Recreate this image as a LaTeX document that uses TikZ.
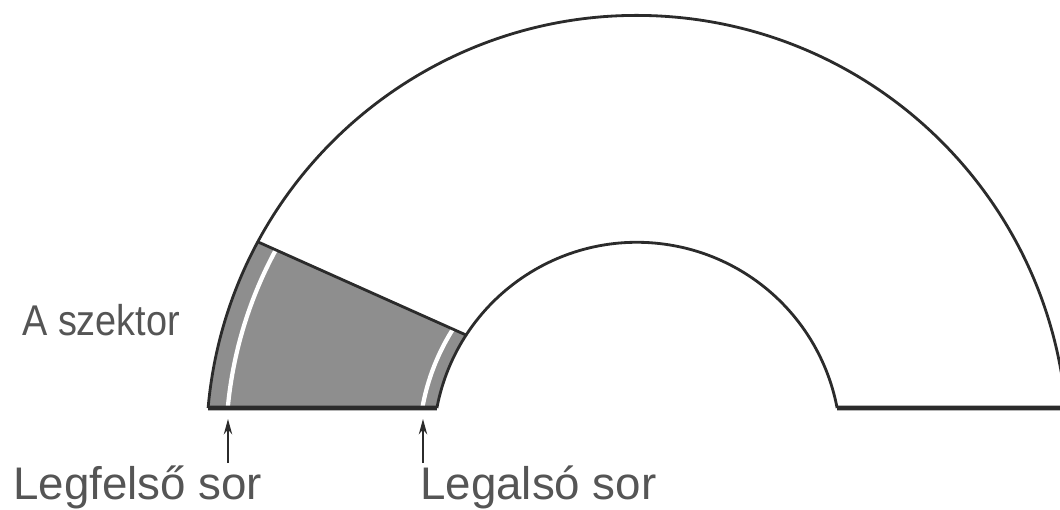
\documentclass[tikz,border=0pt]{standalone}
\usepackage{fontspec}
\setmainfont{Liberation Sans}
\usetikzlibrary{arrows.meta}
\definecolor{inkline}{HTML}{2B2B2B}
\definecolor{inktext}{HTML}{555555}
\definecolor{sectorfill}{HTML}{8E8E8E}
\begin{document}
\begin{tikzpicture}
	[x=0.025cm, y=0.025cm,
	rim/.style={draw=inkline, line width=2pt},
	baseline rim/.style={draw=inkline, line width=3.5pt},
	whiteline/.style={draw=white, line width=3pt},
	pointer/.style={draw=inkline, line width=0.9pt,
		-{Stealth[length=11pt,width=6pt]}},
	caption/.style={inner sep=0, text=inktext,
		font=\fontsize{32.5}{39}\selectfont}]
	\useasboundingbox (-637,-63) rectangle (423,446);
	% corners of the sector
	\coordinate (outer bottom) at (174.94:430.6);
	\coordinate (outer top) at (151.7:430.6);
	\coordinate (inner top) at (147:203.7);
	\coordinate (inner bottom) at (169.25:203.7);
	\coordinate (right inner) at (10.75:203.7);
	\coordinate (right outer) at (5.06:430.6);
	% shaded sector
	\fill[sectorfill] (outer bottom)
		arc[start angle=174.94, end angle=151.7, radius=430.6]
		-- (inner top)
		arc[start angle=147, end angle=169.25, radius=203.7] -- cycle;
	\begin{scope}
		\clip (outer bottom)
			arc[start angle=174.94, end angle=151.7, radius=430.6]
			-- (inner top)
			arc[start angle=147, end angle=169.25, radius=203.7] -- cycle;
		\draw[whiteline] (180:411) arc[start angle=180, end angle=140, radius=411];
		\draw[whiteline] (180:218) arc[start angle=180, end angle=140, radius=218];
	\end{scope}
	% half ring
	\draw[rim] (outer bottom) arc[start angle=174.94, end angle=5.06, radius=430.6];
	\draw[rim] (inner bottom) arc[start angle=169.25, end angle=10.75, radius=203.7];
	\draw[rim] (outer top) -- (inner top);
	\draw[baseline rim] (outer bottom) -- (inner bottom);
	\draw[baseline rim] (right inner) -- (right outer);
	% labels
	\node[caption, anchor=base west] (szektor) at (-615,111)
		{\fontsize{30.6}{36}\selectfont\scalebox{0.88}[1]{A szektor}};
	\node[caption, anchor=base west] (legfelso) at (-624,-53) {Legfelső sor};
	\node[caption, anchor=base west] (legalso) at (-217,-53) {Legalsó sor};
	\coordinate (top tail) at (-409,-17);
	\coordinate (top tip) at (-409,27);
	\coordinate (bottom tail) at (-214,-17);
	\coordinate (bottom tip) at (-214,27);
	\draw[pointer] (top tail) -- (top tip);
	\draw[pointer] (bottom tail) -- (bottom tip);
\end{tikzpicture}
\end{document}
